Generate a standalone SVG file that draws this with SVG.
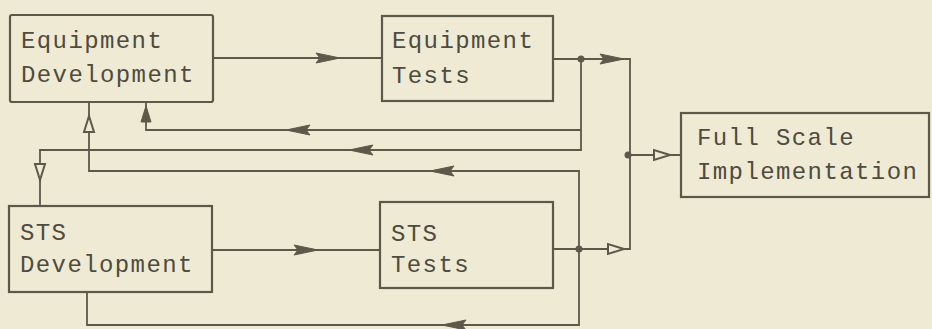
<svg xmlns="http://www.w3.org/2000/svg" xmlns:xlink="http://www.w3.org/1999/xlink" width="932" height="329" viewBox="0 0 932 329">
<style>
.bg{fill:#efead3}
.box{fill:none;stroke:#5c584a;stroke-width:2.2}
.ln{fill:none;stroke:#5c584a;stroke-width:1.8}
.t{font-family:"Liberation Mono","Courier New",monospace;font-size:24px;letter-spacing:1.4px;fill:#4e4b40}
.ah{fill:#5c584a;stroke:#5c584a;stroke-width:1}
.ao{fill:#efead3;stroke:#5c584a;stroke-width:2}
.dot{fill:#5c584a}
</style>
<defs>
<path id="a" d="M0,0 L-24,-5 L-20,0 L-24,5 Z"/>
<path id="o" d="M0,0 L-16,-5 L-16,5 Z"/>
</defs>
<rect class="bg" x="0" y="0" width="932" height="329"/>
<g id="connectors">
<path class="ln" d="M213,58 H382"/>
<path class="ln" d="M553,59 H630 V249 H553"/>
<path class="ln" d="M628,155 H681"/>
<path class="ln" d="M581,59 V150 H40 V206"/>
<path class="ln" d="M581,130 H146 V102"/>
<path class="ln" d="M579,249 V171 H89 V102"/>
<path class="ln" d="M579,249 V325 H87 V292"/>
<path class="ln" d="M212,250 H380"/>
<use href="#a" class="ah" transform="translate(340,58)"/>
<use href="#a" class="ah" transform="translate(318,250)"/>
<use href="#a" class="ah" transform="translate(624,59)"/>
<use href="#o" class="ao" transform="translate(624,249)"/>
<use href="#o" class="ao" transform="translate(670,155)"/>
<use href="#a" class="ah" transform="translate(286,130) rotate(180)"/>
<use href="#a" class="ah" transform="translate(349,150) rotate(180)"/>
<use href="#a" class="ah" transform="translate(430,171) rotate(180)"/>
<use href="#a" class="ah" transform="translate(442,325) rotate(180)"/>
<use href="#o" class="ah" transform="translate(146,106) rotate(-90)"/>
<use href="#o" class="ao" transform="translate(89,116) rotate(-90)"/>
<use href="#o" class="ao" transform="translate(40,180) rotate(90)"/>
<circle class="dot" cx="581" cy="59" r="3.5"/>
<circle class="dot" cx="628" cy="155" r="3.5"/>
<circle class="dot" cx="579" cy="249" r="3.5"/>
</g>
<g id="equipment-development">
<rect class="box" x="10" y="15" width="203" height="87" rx="2"/>
<text class="t" x="21" y="48">Equipment</text>
<text class="t" x="21" y="82">Development</text>
</g>
<g id="equipment-tests">
<rect class="box" x="382" y="16" width="171" height="85"/>
<text class="t" x="392" y="48">Equipment</text>
<text class="t" x="392" y="83">Tests</text>
</g>
<g id="full-scale-implementation">
<rect class="box" x="681" y="113" width="248" height="84"/>
<text class="t" x="697" y="145">Full Scale</text>
<text class="t" x="697" y="179">Implementation</text>
</g>
<g id="sts-development">
<rect class="box" x="9" y="206" width="203" height="86"/>
<text class="t" x="20" y="240">STS</text>
<text class="t" x="20" y="272">Development</text>
</g>
<g id="sts-tests">
<rect class="box" x="380" y="202" width="173" height="86"/>
<text class="t" x="391" y="241">STS</text>
<text class="t" x="391" y="272">Tests</text>
</g>
</svg>
